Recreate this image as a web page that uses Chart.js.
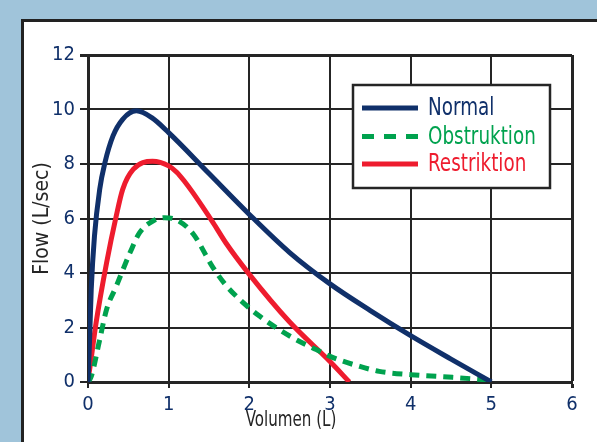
<!DOCTYPE html>
<html>
<head>
<meta charset="utf-8">
<script src="https://cdn.jsdelivr.net/npm/chart.js@4.4.1/dist/chart.umd.min.js"></script>
<style>
  html, body { margin: 0; padding: 0; }
  body { width: 597px; height: 442px; background: #a0c4da; position: relative; overflow: hidden; }
  #panel { position: absolute; left: 21px; top: 19px; width: 600px; height: 450px; background: #fff;
           border-left: 3px solid #222; border-top: 3px solid #222; }
  #flowChart { position: absolute; left: 0; top: 0; }
</style>
</head>
<body>
<div id="panel"></div>
<canvas id="flowChart" width="597" height="442"></canvas>
<script>
// volume (L) / flow (L/sec)
const normalVol  = [0, 0.02, 0.04, 0.08, 0.145, 0.21, 0.31, 0.43, 0.6, 0.79, 1.0, 1.5, 2.0, 2.5, 3.0, 3.5, 4.0, 4.5, 5.0];
const normalFlow = [0, 1.6, 3.4, 5.35, 7.07, 8.05, 9.03, 9.64, 9.95, 9.7, 9.15, 7.65, 6.15, 4.75, 3.6, 2.62, 1.7, 0.84, 0];

const obstrVol  = [0, 0.04, 0.145, 0.23, 0.35, 0.52, 0.64, 0.8, 0.95, 1.1, 1.3, 1.55, 1.71, 1.88, 2.13, 2.54, 2.83, 3.0, 3.37, 3.61, 4.0, 4.52, 4.94];
const obstrFlow = [0, 0.2, 1.55, 2.66, 3.51, 4.74, 5.48, 5.9, 6.03, 5.95, 5.45, 4.2, 3.55, 3.03, 2.41, 1.62, 1.19, 0.94, 0.57, 0.39, 0.27, 0.17, 0.08];

const restrVol  = [0, 0.02, 0.1, 0.23, 0.35, 0.43, 0.56, 0.8, 1.0, 1.1, 1.2, 1.3, 1.55, 1.71, 2.0, 2.5, 3.0, 3.24];
const restrFlow = [0.1, 0.45, 2.17, 4.37, 6.09, 7.07, 7.8, 8.1, 7.93, 7.7, 7.35, 6.95, 5.85, 5.1, 3.95, 2.2, 0.75, 0];

const seriesNames = ['Normal', 'Obstruktion', 'Restriktion'];
const xTicks = [0, 1, 2, 3, 4, 5, 6];
const yTicks = [0, 2, 4, 6, 8, 10, 12];

const NAVY = '#10306a';
const GREEN = '#00a24e';
const RED = '#ee1c2e';
const INK = '#252525';
const FONT = '"Liberation Sans Narrow", "DejaVu Sans Condensed", "Roboto Condensed", sans-serif';

function pairs(xs, ys) {
    return xs.map((x, i) => ({ x: x, y: ys[i] }));
}

// squeeze text sideways, the reference uses a condensed face
function narrowText(ctx, text, x, y, squeeze) {
    ctx.save();
    ctx.translate(x, y);
    ctx.scale(squeeze, 1);
    ctx.fillText(text, 0, 0);
    ctx.restore();
}

// legend box + x title drawn on top of the grid
const overlayPlugin = {
    id: 'overlay',
    afterDraw(chart) {
        const ctx = chart.ctx;
        ctx.save();
        // legend
        ctx.fillStyle = '#fff';
        ctx.fillRect(353, 85, 197, 103);
        ctx.strokeStyle = INK;
        ctx.lineWidth = 2.5;
        ctx.strokeRect(353, 85, 197, 103);
        const rows = [108, 136.5, 164];
        chart.data.datasets.forEach((ds, i) => {
            const y = rows[i];
            ctx.beginPath();
            ctx.lineWidth = 5;
            ctx.strokeStyle = ds.borderColor;
            ctx.setLineDash(ds.borderDash ? [12, 10] : []);
            ctx.moveTo(362, y);
            ctx.lineTo(418, y);
            ctx.stroke();
            ctx.setLineDash([]);
            ctx.fillStyle = ds.borderColor;
            ctx.font = '24px ' + FONT;
            ctx.textBaseline = 'middle';
            ctx.textAlign = 'left';
            narrowText(ctx, ds.label, 428, y + 1, 0.85);
        });
        // x axis title
        ctx.fillStyle = INK;
        ctx.font = '21px ' + FONT;
        ctx.textAlign = 'center';
        ctx.textBaseline = 'middle';
        narrowText(ctx, 'Volumen (L)', 291, 421, 0.8);
        ctx.restore();
    }
};

const edgeWidth = (c, maxVal) => (c.tick && c.tick.value === maxVal ? 3 : 2);

new Chart(document.getElementById('flowChart'), {
    type: 'line',
    data: {
        datasets: [
            {
                label: seriesNames[0],
                data: pairs(normalVol, normalFlow),
                borderColor: NAVY,
                borderWidth: 5
            },
            {
                label: seriesNames[1],
                data: pairs(obstrVol, obstrFlow),
                borderColor: GREEN,
                borderWidth: 5,
                borderDash: [10, 7]
            },
            {
                label: seriesNames[2],
                data: pairs(restrVol, restrFlow),
                borderColor: RED,
                borderWidth: 5
            }
        ]
    },
    options: {
        responsive: false,
        animation: false,
        events: [],
        layout: { padding: { left: 24, right: 25, top: 55, bottom: 0 } },
        elements: {
            point: { radius: 0 },
            line: { cubicInterpolationMode: 'monotone', fill: false, borderCapStyle: 'butt' }
        },
        plugins: {
            legend: { display: false },
            tooltip: { enabled: false }
        },
        scales: {
            x: {
                type: 'linear',
                min: 0,
                max: 6,
                afterBuildTicks: s => { s.ticks = xTicks.map(v => ({ value: v })); },
                afterFit: s => { s.height = 60; },
                ticks: { color: NAVY, font: { family: FONT, size: 20 }, padding: 5 },
                grid: { color: INK, lineWidth: c => edgeWidth(c, 6), tickLength: 6, tickColor: INK },
                border: { color: INK, width: 3 }
            },
            y: {
                min: 0,
                max: 12,
                afterBuildTicks: s => { s.ticks = yTicks.map(v => ({ value: v })); },
                afterFit: s => { s.width = 64; },
                ticks: { color: NAVY, font: { family: FONT, size: 20 }, padding: 5 },
                grid: { color: INK, lineWidth: c => edgeWidth(c, 12), tickLength: 8, tickColor: INK },
                border: { color: INK, width: 3 },
                title: {
                    display: true,
                    text: 'Flow (L/sec)',
                    color: INK,
                    font: { family: FONT, size: 21 },
                    padding: { top: 6, bottom: 0 }
                }
            }
        }
    },
    plugins: [overlayPlugin]
});
</script>
</body>
</html>
